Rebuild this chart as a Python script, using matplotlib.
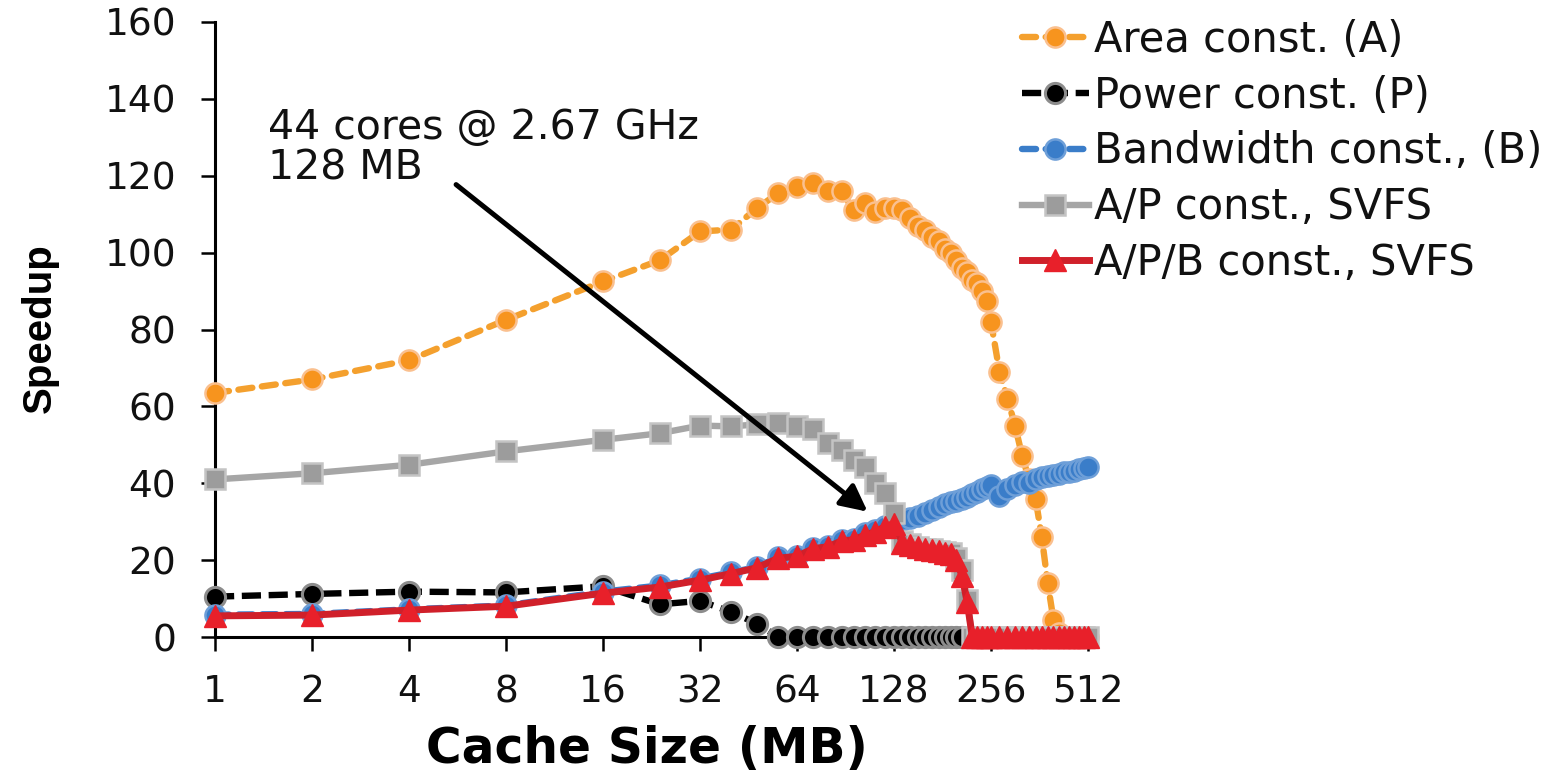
import numpy as np
import matplotlib
matplotlib.use("Agg")
import matplotlib.pyplot as plt

# ---------------- data ----------------
cache_mb = [1, 2, 4, 8, 16, 24, 32, 40, 48, 56, 64, 72, 80, 88, 96, 104, 112, 120, 128,
            136, 144, 152, 160, 168, 176, 184, 192, 200, 208, 216, 224, 232, 240, 248, 256,
            272, 288, 304, 320, 336, 352, 368, 384, 400, 416, 432, 448, 464, 480, 496, 512]

area_const = [63.5, 67, 72, 82.5, 92.5, 98, 105.5, 106, 111.5, 115.5, 117, 118, 116, 116, 111,
              113, 110.5, 111.5, 111.5, 111, 109, 107, 106, 104, 103, 101, 100, 98, 96, 95, 93,
              92, 90, 87.5, 82, 69, 62, 55, 47, 41, 36, 26, 14, 4.5, 1, 0, 0, 0, 0, 0, 0]

power_const = [10.5, 11.2, 11.8, 11.6, 13.2, 8.5, 9.4, 6.5, 3.5, 0, 0, 0, 0, 0, 0,
               0, 0, 0, 0, 0, 0, 0, 0, 0, 0, 0, 0, 0, 0, np.nan, np.nan,
               np.nan, np.nan, np.nan, np.nan, np.nan, np.nan, np.nan, np.nan, np.nan, np.nan,
               np.nan, np.nan, np.nan, np.nan, np.nan, np.nan, np.nan, np.nan, np.nan, np.nan]

bandwidth_const = [5.8, 6, 7.2, 8.2, 11.8, 13.4, 15.2, 16.8, 18.2, 20.8, 21.2, 23.2, 23.6, 25.2,
                   25.6, 27, 27.8, 29, 30.2, 30.5, 31, 31.5, 32.3, 33, 33.8, 34.5, 35, 35.5, 36,
                   36.5, 37.2, 37.8, 38.5, 39, 39.5, 36.8, 38.5, 39.5, 40.2, 40, 41, 41.5, 41.8,
                   42.2, 42.5, 42.8, 43, 43.3, 43.8, 44, 44.3]

ap_svfs = [41, 42.6, 44.8, 48.3, 51.3, 53, 55, 54.8, 55.3, 55.6, 54.8, 54, 50.5, 48.7, 46,
           44.3, 40, 37.4, 32.3, 25, 24.2, 23.5, 23, 22.8, 22.5, 22, 21.8, 20.5, 17.5, 9.5, 0,
           0, 0, 0, 0, 0, 0, 0, 0, 0, 0, 0, 0, 0, 0, 0, 0, 0, 0, 0, 0]

apb_svfs = [5.5, 5.7, 7, 8, 11.4, 13, 14.8, 16.5, 18, 20.5, 21, 23, 23.5, 25, 25.3, 26.5,
            27.4, 28.7, 29.5, 24.5, 24, 23.5, 23, 22.6, 22.3, 21.8, 21.5, 20, 16, 9, 0,
            0, 0, 0, 0, 0, 0, 0, 0, 0, 0, 0, 0, 0, 0, 0, 0, 0, 0, 0, 0]

series_labels = ["Area const. (A)", "Power const. (P)", "Bandwidth const., (B)",
                 "A/P const., SVFS", "A/P/B const., SVFS"]
x_ticks = [1, 2, 4, 8, 16, 32, 64, 128, 256, 512]
y_ticks = [0, 20, 40, 60, 80, 100, 120, 140, 160]

annot_text = "44 cores @ 2.67 GHz\n128 MB"
annot_tip = (106, 32.6)
annot_tail = (5.6, 117.7)
annot_text_pos = (1.46, 137.5)

# ---------------- figure ----------------
W, H = 1546, 776
fig = plt.figure(figsize=(W / 100, H / 100), dpi=100)
ax = fig.add_axes([215 / W, 139 / H, (1088 - 215) / W, 615 / H])

ax.set_xscale("log", base=2)
ax.set_xlim(1, 512)
ax.set_ylim(0, 160)

ms_c = 14.5
lw = 4.6

ax.plot(cache_mb, area_const, color="#F4A02E", lw=lw, dashes=(2.2, 1.5),
        dash_capstyle="round", marker="o", ms=ms_c, mfc="#F7941E", mec="#FAC08F",
        mew=1.8, clip_on=False, zorder=3, label=series_labels[0])
ax.plot(cache_mb, power_const, color="#000000", lw=lw, dashes=(3.0, 1.2),
        marker="o", ms=ms_c, mfc="#000000", mec="#8C8C8C",
        mew=2.2, clip_on=False, zorder=4, label=series_labels[1])
ax.plot(cache_mb, bandwidth_const, color="#3A7DC9", lw=lw, dashes=(2.2, 1.5),
        dash_capstyle="round", marker="o", ms=ms_c, mfc="#3A7DC9", mec="#6E9FD8",
        mew=1.8, clip_on=False, zorder=5, label=series_labels[2])
ax.plot(cache_mb, ap_svfs, color="#A6A6A6", lw=lw, ls="-",
        marker="s", ms=14, mfc="#9C9C9C", mec="#C4C4C4",
        mew=1.8, clip_on=False, zorder=6, label=series_labels[3])
ax.plot(cache_mb, apb_svfs, color="#D0202A", lw=lw + 0.4, ls="-",
        marker="^", ms=16, mfc="#E8202A", mec="#E8202A",
        mew=1.0, clip_on=False, zorder=7, label=series_labels[4])

# axes styling
for s in ["top", "right"]:
    ax.spines[s].set_visible(False)
for s in ["left", "bottom"]:
    ax.spines[s].set_linewidth(2.2)
    ax.spines[s].set_color("black")
    ax.spines[s].set_zorder(2)

ax.set_xticks(x_ticks)
ax.set_xticklabels([str(v) for v in x_ticks])
ax.xaxis.set_minor_locator(matplotlib.ticker.NullLocator())
ax.set_yticks(y_ticks)
ax.set_yticklabels([str(v) for v in y_ticks])
ax.tick_params(axis="both", direction="out", length=10, width=1.8, colors="black",
               labelsize=27)
ax.tick_params(axis="x", pad=17)
ax.tick_params(axis="y", pad=18)
for lbl in ax.get_xticklabels() + ax.get_yticklabels():
    lbl.set_family("DejaVu Sans")
    lbl.set_color("#111111")

# axis labels
fig.text(40 / W, 1 - 328 / H, "Speedup", rotation=90, ha="center", va="center",
         fontsize=29, fontweight="bold", family="Liberation Sans")
fig.text(647 / W, 1 - 749 / H, "Cache Size (MB)", ha="center", va="center",
         fontsize=35, fontweight="bold", family="DejaVu Sans")

# annotation
ax.text(annot_text_pos[0], annot_text_pos[1], annot_text, ha="left", va="top",
        fontsize=29.5, linespacing=1.0, family="DejaVu Sans", color="#111111")
ax.annotate("", xy=annot_tip, xytext=annot_tail,
            arrowprops=dict(arrowstyle="-|>", lw=3.6, color="black",
                            mutation_scale=40, shrinkA=0, shrinkB=0),
            zorder=10)

# legend
leg = fig.legend(loc="upper left", bbox_to_anchor=(1022 / W, 1 - 19 / H),
                 frameon=False, fontsize=30, handlelength=1.6, handletextpad=0.12,
                 labelspacing=0.33, borderpad=0, borderaxespad=0, numpoints=1)
for t in leg.get_texts():
    t.set_color("#111111")

fig.savefig("out.png", dpi=100)
